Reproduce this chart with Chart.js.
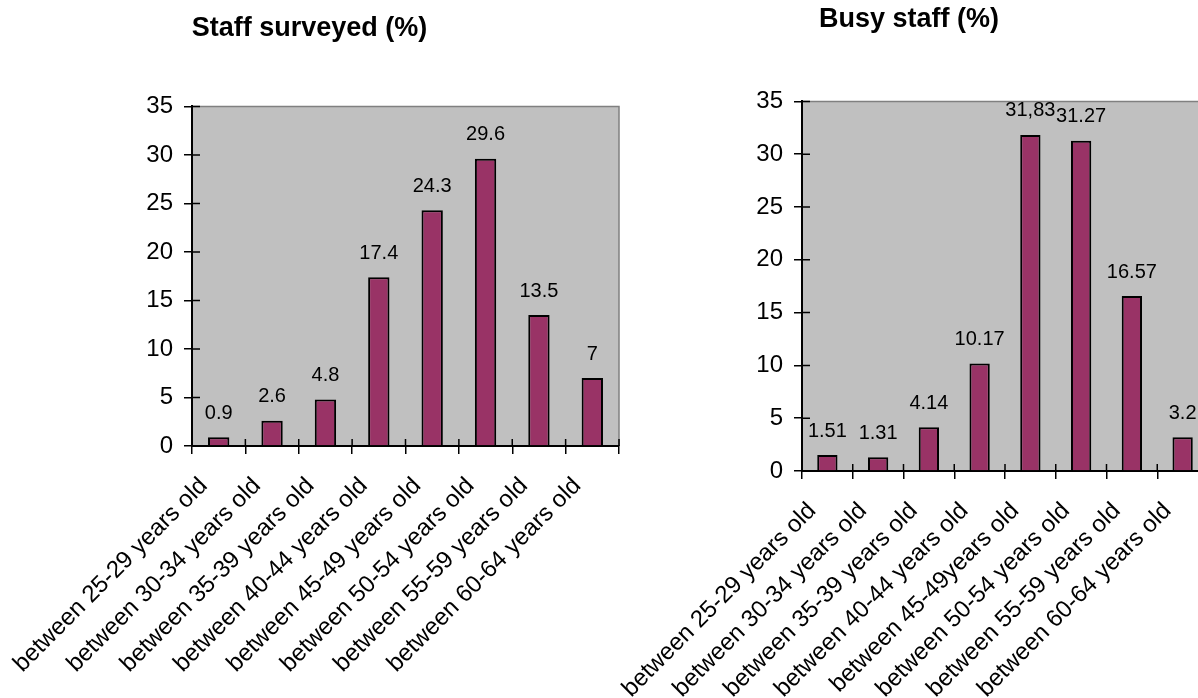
<!DOCTYPE html>
<html>
<head>
<meta charset="utf-8">
<script src="https://cdn.jsdelivr.net/npm/chart.js@4.4.1/dist/chart.umd.min.js"></script>
<style>
  html, body { margin: 0; padding: 0; background: #fff; width: 1198px; height: 698px; overflow: hidden; }
  body { position: relative; }
  .box { position: absolute; top: 0; height: 698px; }
  #left { left: 0; width: 620px; }
  #right { left: 610px; width: 600px; }
</style>
</head>
<body>
<div class="box" id="left"><canvas id="surveyed"></canvas></div>
<div class="box" id="right"><canvas id="busy"></canvas></div>
<script>
// Data
const surveyedLabels = [
  'between 25-29 years old', 'between 30-34 years old', 'between 35-39 years old',
  'between 40-44 years old', 'between 45-49 years old', 'between 50-54 years old',
  'between 55-59 years old', 'between 60-64 years old'
];
const surveyedValues = [0.9, 2.6, 4.8, 17.4, 24.3, 29.6, 13.5, 7];
const surveyedText = ['0.9', '2.6', '4.8', '17.4', '24.3', '29.6', '13.5', '7'];

const busyLabels = [
  'between 25-29 years old', 'between 30-34 years old', 'between 35-39 years old',
  'between 40-44 years old', 'between 45-49years old', 'between 50-54 years old',
  'between 55-59 years old', 'between 60-64 years old'
];
const busyValues = [1.51, 1.31, 4.14, 10.17, 31.83, 31.27, 16.57, 3.2];
const busyText = ['1.51', '1.31', '4.14', '10.17', '31,83', '31.27', '16.57', '3.2'];

const yMax = 35;
const yStep = 5;

const FONT = '"Liberation Sans", Arial, sans-serif';
Chart.defaults.font.family = FONT;
Chart.defaults.color = '#000';

// grey plot area, grey top/right frame, cross tick marks
const plotFrame = {
  id: 'plotFrame',
  beforeDraw(chart) {
    const { ctx, chartArea: a } = chart;
    ctx.save();
    ctx.fillStyle = '#c0c0c0';
    ctx.fillRect(a.left, a.top, a.right - a.left, a.bottom - a.top);
    ctx.strokeStyle = '#808080';
    ctx.lineWidth = 1.5;
    ctx.beginPath();
    ctx.moveTo(a.left, a.top);
    ctx.lineTo(a.right, a.top);
    ctx.lineTo(a.right, a.bottom);
    ctx.stroke();
    ctx.restore();
  },
  afterDatasetsDraw(chart) {
    const { ctx, chartArea: a, scales } = chart;
    const x = scales.x, y = scales.y;
    ctx.save();
    ctx.strokeStyle = '#000';
    ctx.lineWidth = 1.5;
    ctx.beginPath();
    for (let i = 0; i <= chart.data.labels.length; i++) {
      const px = x.getPixelForValue(i - 0.5);
      ctx.moveTo(px, a.bottom);
      ctx.lineTo(px, a.bottom - 7);
    }
    y.ticks.forEach(t => {
      const py = y.getPixelForValue(t.value);
      ctx.moveTo(a.left, py);
      ctx.lineTo(a.left + 8, py);
    });
    ctx.stroke();
    ctx.restore();
  }
};

// value labels above the bars
const valueLabels = {
  id: 'valueLabels',
  afterDatasetsDraw(chart, args, opts) {
    const ctx = chart.ctx;
    const meta = chart.getDatasetMeta(0);
    ctx.save();
    ctx.font = '20px ' + FONT;
    ctx.fillStyle = '#000';
    ctx.textAlign = 'center';
    ctx.textBaseline = 'middle';
    meta.data.forEach((bar, i) => ctx.fillText(opts.texts[i], bar.x, bar.y - 24));
    ctx.restore();
  }
};

const makeChart = (id, labels, values, texts, title, titlePad, axisHeight, padRight) => {
  return new Chart(document.getElementById(id), {
    type: 'bar',
    data: {
      labels: labels,
      datasets: [{
        data: values,
        backgroundColor: '#993366',
        borderColor: '#000',
        borderWidth: 2,
        categoryPercentage: 1,
        barPercentage: 0.4
      }]
    },
    plugins: [plotFrame, valueLabels],
    options: {
      responsive: true,
      maintainAspectRatio: false,
      animation: false,
      layout: { padding: { left: 0, right: padRight, top: 0, bottom: 0 } },
      plugins: {
        legend: { display: false },
        tooltip: { enabled: false },
        title: {
          display: true,
          text: title,
          color: '#000',
          font: { size: 27, weight: 'bold', lineHeight: 1.2 },
          padding: titlePad
        },
        valueLabels: { texts: texts }
      },
      scales: {
        x: {
          offset: true,
          grid: { offset: true, drawOnChartArea: false, drawTicks: true, tickLength: 8, color: '#000', lineWidth: 1.5 },
          border: { display: true, color: '#000', width: 2 },
          ticks: { autoSkip: false, minRotation: 45, maxRotation: 45, padding: 18, labelOffset: -15, font: { size: 24 }, color: '#000' },
          afterFit: s => {
            s.height = axisHeight;
            s.paddingLeft = 0;
            s.paddingRight = 0;
          }
        },
        y: {
          min: 0,
          max: yMax,
          grid: { drawOnChartArea: false, drawTicks: true, tickLength: 8, color: '#000', lineWidth: 1.5 },
          border: { display: true, color: '#000', width: 2 },
          ticks: { stepSize: yStep, padding: 11, font: { size: 24 }, color: '#000' },
          afterFit: s => { s.width = 192; }
        }
      }
    }
  });
};

makeChart('surveyed', surveyedLabels, surveyedValues, surveyedText, 'Staff surveyed (%)', { top: 12, bottom: 62 }, 252, 1);
makeChart('busy', busyLabels, busyValues, busyText, 'Busy staff (%)', { top: 3, bottom: 66 }, 227, 2);
</script>
</body>
</html>
